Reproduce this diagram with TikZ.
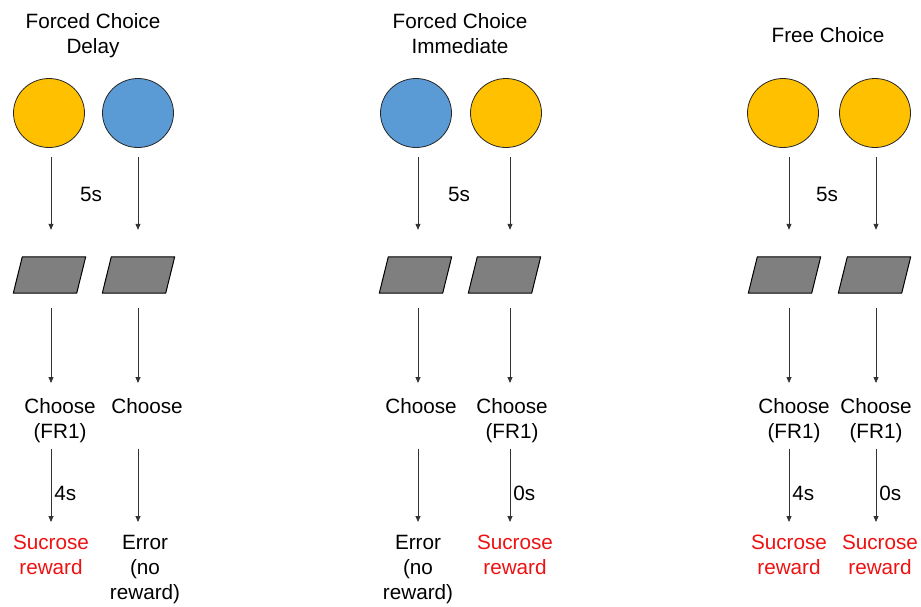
\documentclass[tikz,border=0pt]{standalone}
\usepackage{fontspec}
\setmainfont{Liberation Sans}
\usetikzlibrary{arrows.meta,shapes.geometric}
\definecolor{cyel}{HTML}{FFC000}
\definecolor{cblue}{HTML}{5B9BD5}
\definecolor{cgray}{HTML}{7F7F7F}
\definecolor{cred}{HTML}{EE1111}
\definecolor{cline}{HTML}{333333}
\begin{document}
\begin{tikzpicture}[x=1pt,y=-1pt,
  every node/.style={font=\fontsize{20.7}{25}\selectfont},
  disc/.style={ellipse, draw=black!85, line width=0.8pt, minimum width=71pt, minimum height=69pt, inner sep=0},
  parabox/.style={rectangle, minimum width=63pt, minimum height=36pt, inner sep=0},
  paradraw/.style={draw=black, line width=1pt, fill=cgray, line join=round},
  txt/.style={align=center, inner sep=0, anchor=north},
  rew/.style={txt, text=cred},
  arr/.style={draw=cline, line width=0.8pt, -{Triangle[length=6pt,width=5pt]}},
  top arr/.style={arr, shorten <=9pt, shorten >=27pt},
  mid arr/.style={arr, shorten <=15pt, shorten >=15pt},
  low arr/.style={arr, shorten <=6pt, shorten >=13pt},
  low arr single/.style={arr, shorten <=35pt, shorten >=13pt},
  delay/.style={right, inner sep=3pt, pos=0.55}
]
\useasboundingbox (0,0) rectangle (921,606);
% lanes
\coordinate (L1) at (51,0);
\coordinate (L2) at (138,0);
\coordinate (L3) at (418,0);
\coordinate (L4) at (510,0);
\coordinate (L5) at (789,0);
\coordinate (L6) at (876,0);
% titles
\node[txt] (t1) at (93,13) {Forced Choice\\Delay};
\node[txt] (t2) at (460,13) {Forced Choice\\Immediate};
\node[txt] (t3) at (828,27) {Free Choice};
% circles
\node[disc, fill=cyel]  (c1) at (49,113) {};
\node[disc, fill=cblue] (c2) at (138,113) {};
\node[disc, fill=cblue] (c3) at (416,113) {};
\node[disc, fill=cyel]  (c4) at (506,113) {};
\node[disc, fill=cyel]  (c5) at (783,113) {};
\node[disc, fill=cyel]  (c6) at (875,113) {};
% 5s labels
\node[txt] (s1) at (91,187) {5s};
\node[txt] (s2) at (459,187) {5s};
\node[txt] (s3) at (827,187) {5s};
% levers (parallelograms)
\node[parabox] (p1) at (49.5,275) {};
\node[parabox] (p2) at (138.5,275) {};
\node[parabox] (p3) at (415.5,275) {};
\node[parabox] (p4) at (504.5,275) {};
\node[parabox] (p5) at (784.5,275) {};
\node[parabox] (p6) at (874.5,275) {};
\foreach \i in {1,...,6}{
  \draw[paradraw] ([xshift=-4.5pt]p\i.south west) -- ([xshift=-4.5pt]p\i.south east)
     -- ([xshift=4.5pt]p\i.north east) -- ([xshift=4.5pt]p\i.north west) -- cycle;
}
% choose
\node[txt] (ch1) at (60,398) {Choose\\(FR1)};
\node[txt] (ch2) at (147,398) {Choose};
\node[txt] (ch3) at (421,398) {Choose};
\node[txt] (ch4) at (512,398) {Choose\\(FR1)};
\node[txt] (ch5) at (794,398) {Choose\\(FR1)};
\node[txt] (ch6) at (876,398) {Choose\\(FR1)};
% outcomes
\node[rew] (r1) at (51,535) {Sucrose\\reward};
\node[txt] (r2) at (145,535) {Error\\(no\\reward)};
\node[txt] (r3) at (418,535) {Error\\(no\\reward)};
\node[rew] (r4) at (515,535) {Sucrose\\reward};
\node[rew] (r5) at (789,535) {Sucrose\\reward};
\node[rew] (r6) at (880,535) {Sucrose\\reward};
% arrows circle -> lever -> choose
\foreach \i in {1,...,6}{
  \draw[top arr] (c\i.south -| L\i) -- (p\i.north -| L\i);
  \draw[mid arr] (p\i.south -| L\i) -- (ch\i.north -| L\i);
}
% arrows choose -> outcome
\draw[low arr] (ch1.south -| L1) -- node[delay] {4s} (r1.north -| L1);
\draw[low arr single] (ch2.south -| L2) -- (r2.north -| L2);
\draw[low arr single] (ch3.south -| L3) -- (r3.north -| L3);
\draw[low arr] (ch4.south -| L4) -- node[delay] {0s} (r4.north -| L4);
\draw[low arr] (ch5.south -| L5) -- node[delay] {4s} (r5.north -| L5);
\draw[low arr] (ch6.south -| L6) -- node[delay] {0s} (r6.north -| L6);
\end{tikzpicture}
\end{document}
